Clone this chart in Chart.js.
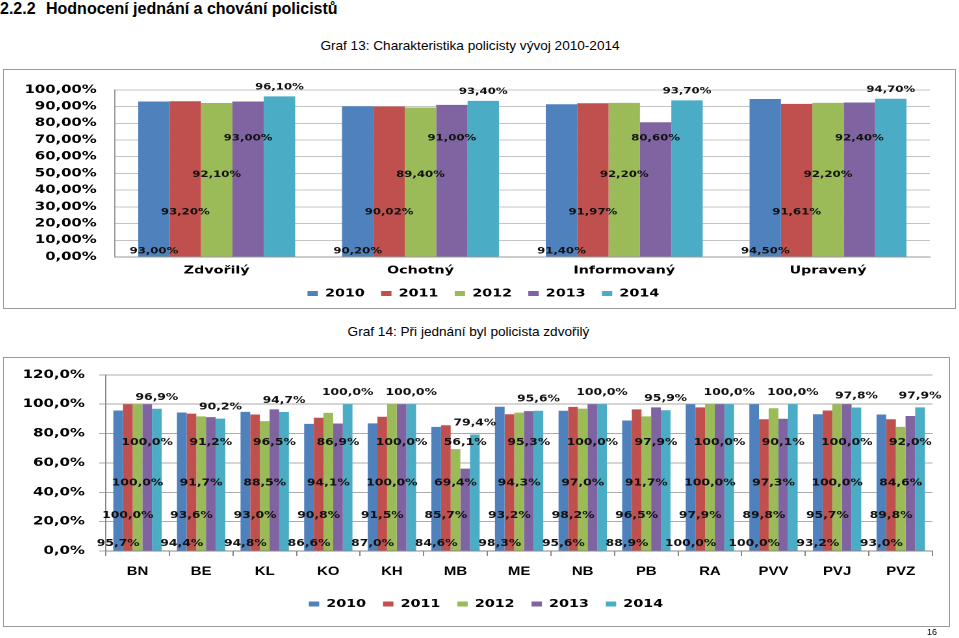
<!DOCTYPE html>
<html><head><meta charset="utf-8">
<script src="https://cdn.jsdelivr.net/npm/chart.js@4.4.1/dist/chart.umd.min.js"></script>
<style>
html,body{margin:0;padding:0;background:#fff;}
body{width:959px;height:638px;position:relative;overflow:hidden;font-family:"Liberation Sans",Arial,sans-serif;color:#000;}
.abs{position:absolute;white-space:nowrap;}
.h{font-weight:bold;font-size:16px;line-height:16px;top:1px;}
.cap{font-size:13.6px;line-height:14px;text-align:center;}
.frame{position:absolute;border:1px solid #9a9a9a;box-sizing:border-box;pointer-events:none;}
.wrap{position:absolute;transform-origin:0 0;transform:scaleX(1.3);}
</style></head><body>
<div class="abs h" style="left:0">2.2.2</div>
<div class="abs h" style="left:46px">Hodnocení jednání a chování policistů</div>
<div class="abs cap" style="left:0;width:940px;top:39px">Graf 13: Charakteristika policisty vývoj 2010-2014</div>
<div class="wrap" style="left:3px;top:69px;width:732px;height:240px"><canvas id="c1" width="732" height="240"></canvas></div>
<div class="frame" style="left:3px;top:69px;width:953px;height:240px"></div>
<div class="abs cap" style="left:0;width:937px;top:325px">Graf 14: Při jednání byl policista zdvořilý</div>
<div class="wrap" style="left:3px;top:357px;width:728px;height:270px"><canvas id="c2" width="728" height="270"></canvas></div>
<div class="frame" style="left:3px;top:357px;width:947px;height:270px"></div>
<div class="abs" style="left:927px;top:627px;font-size:9px">16</div>
<script>
// ---- data ----
const years = ['2010', '2011', '2012', '2013', '2014'];
const colors = ['#4F81BD', '#C0504D', '#9BBB59', '#8064A2', '#4BACC6'];

// Graf 13
const cat13 = ['Zdvořilý', 'Ochotný', 'Informovaný', 'Upravený'];
const g13_2010 = [93.00, 90.20, 91.40, 94.50];
const g13_2011 = [93.20, 90.02, 91.97, 91.61];
const g13_2012 = [92.10, 89.40, 92.20, 92.20];
const g13_2013 = [93.00, 91.00, 80.60, 92.40];
const g13_2014 = [96.10, 93.40, 93.70, 94.70];

// Graf 14
const cat14 = ['BN', 'BE', 'KL', 'KO', 'KH', 'MB', 'ME', 'NB', 'PB', 'RA', 'PVV', 'PVJ', 'PVZ'];
const g14_2010 = [95.7, 94.4, 94.8, 86.6, 87.0, 84.6, 98.3, 95.6, 88.9, 100.0, 100.0, 93.2, 93.0];
const g14_2011 = [100.0, 93.6, 93.0, 90.8, 91.5, 85.7, 93.2, 98.2, 96.5, 97.9, 89.8, 95.7, 89.8];
const g14_2012 = [100.0, 91.7, 88.5, 94.1, 100.0, 69.4, 94.3, 97.0, 91.7, 100.0, 97.3, 100.0, 84.6];
const g14_2013 = [100.0, 91.2, 96.5, 86.9, 100.0, 56.1, 95.3, 100.0, 97.9, 100.0, 90.1, 100.0, 92.0];
const g14_2014 = [96.9, 90.2, 94.7, 100.0, 100.0, 79.4, 95.6, 100.0, 95.9, 100.0, 100.0, 97.8, 97.9];

// ---- helpers ----
function pct(v, d) { return Number(v).toFixed(d).replace('.', ',') + '%'; }

function valueLabels(levels, topOffset, decimals, font) {
  return {
    id: 'valueLabels',
    afterDatasetsDraw(chart) {
      const ctx = chart.ctx, ys = chart.scales.y;
      ctx.save();
      ctx.font = font;
      ctx.fillStyle = '#111';
      ctx.textAlign = 'center';
      ctx.textBaseline = 'middle';
      chart.data.datasets.forEach((ds, i) => {
        chart.getDatasetMeta(i).data.forEach((bar, j) => {
          const py = i < levels.length ? ys.getPixelForValue(levels[i]) : bar.y - topOffset;
          ctx.fillText(pct(ds.data[j], decimals), bar.x, py);
        });
      });
      ctx.restore();
    }
  };
}

function legendShift(dx) {
  return {
    id: 'legendShift',
    afterLayout(chart) {
      if (chart.legend) { chart.legend.left += dx; chart.legend.right += dx; }
    }
  };
}

function makeSets(series, catPct) {
  return series.map((d, i) => ({
    label: years[i], data: d, backgroundColor: colors[i], borderWidth: 0,
    categoryPercentage: catPct, barPercentage: 1
  }));
}

const verd = (s) => ({ family: 'DejaVu Sans', weight: 'bold', size: s });

// ---- Graf 13 ----
new Chart(document.getElementById('c1'), {
  type: 'bar',
  data: { labels: cat13, datasets: makeSets([g13_2010, g13_2011, g13_2012, g13_2013, g13_2014], 0.77) },
  options: {
    responsive: false, animation: false, devicePixelRatio: 2,
    layout: { padding: { top: 12, right: 19, left: 0, bottom: 0 } },
    plugins: {
      legend: { position: 'bottom', labels: { font: verd(11), color: '#000', boxWidth: 8, boxHeight: 5, padding: 12.5 } },
      tooltip: { enabled: false }
    },
    scales: {
      x: {
        grid: { display: false, drawTicks: false },
        border: { color: '#999' },
        ticks: { font: verd(11), color: '#000', padding: 7 },
        afterFit(s) { s.height = 18.5; }
      },
      y: {
        min: 0, max: 100,
        ticks: { stepSize: 10, callback: (v) => pct(v, 2), font: verd(11.4), color: '#000', padding: 14 },
        grid: { color: '#c4c4c4', drawTicks: false },
        border: { color: '#999' },
        afterFit(s) { s.width = 86; }
      }
    }
  },
  plugins: [valueLabels([3.4, 26.7, 49.4, 71], 9, 2, 'bold 9px "DejaVu Sans"'), legendShift(13)]
});

// ---- Graf 14 ----
new Chart(document.getElementById('c2'), {
  type: 'bar',
  data: { labels: cat14, datasets: makeSets([g14_2010, g14_2011, g14_2012, g14_2013, g14_2014], 0.76) },
  options: {
    responsive: false, animation: false, devicePixelRatio: 2,
    layout: { padding: { top: 14, right: 13, left: 0, bottom: 7.5 } },
    plugins: {
      legend: { position: 'bottom', labels: { font: verd(11), color: '#000', boxWidth: 8, boxHeight: 5, padding: 13 } },
      tooltip: { enabled: false }
    },
    scales: {
      x: {
        grid: { drawOnChartArea: false, drawTicks: true, tickLength: 5, color: '#888' },
        border: { color: '#888' },
        ticks: { font: { family: 'Liberation Sans', weight: 'bold', size: 11.5 }, color: '#000', padding: 9 },
        afterFit(s) { s.height = 34.5; }
      },
      y: {
        min: 0, max: 120,
        ticks: { stepSize: 20, callback: (v) => pct(v, 1), font: verd(11.5), color: '#000', padding: 11 },
        grid: { color: '#ababab', tickLength: 5 },
        border: { color: '#888' },
        afterFit(s) { s.width = 79; }
      }
    }
  },
  plugins: [valueLabels([5.1, 24, 46.2, 74], 11.5, 1, 'bold 9.5px "DejaVu Sans"'), legendShift(14)]
});
</script>
</body></html>
